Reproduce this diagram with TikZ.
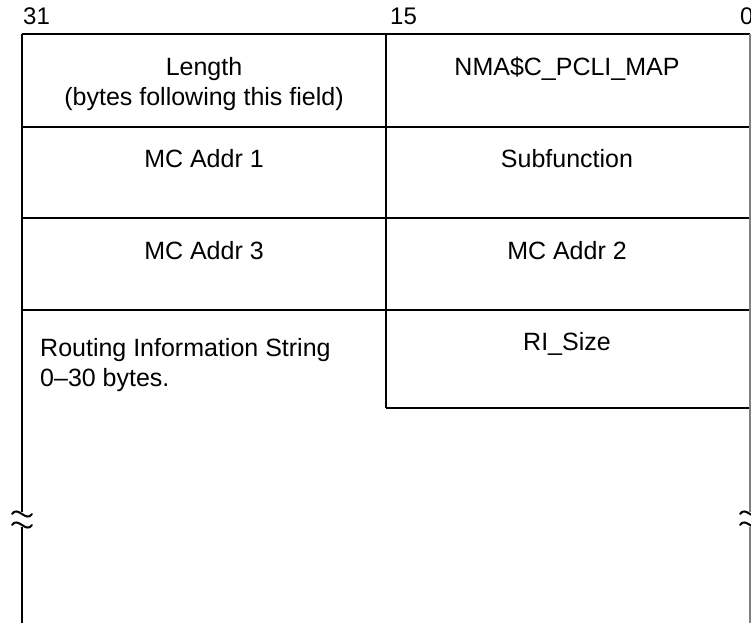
\documentclass[tikz,border=0pt]{standalone}
\usepackage{fontspec}
\setmainfont{Liberation Sans}
\usetikzlibrary{positioning}

\begin{document}
\begin{tikzpicture}[x=1pt,y=-1pt,
  fieldtxt/.style={anchor=north,align=center,font=\fontsize{25}{30}\selectfont,inner sep=0pt},
  bitlbl/.style={anchor=base west,font=\fontsize{24}{28}\selectfont,inner sep=0pt},
  regline/.style={line width=2pt,black},
  brk/.style={line width=2pt,black,line cap=round}
]
  \useasboundingbox (0,0) rectangle (751,623);
  % frame
  \coordinate (tl) at (22,34);
  \coordinate (tm) at (386,34);
  \coordinate (tr) at (750,34);
  \draw[regline] (tl) -- (tr);
  \draw[regline] (22,127) -- (750,127);
  \draw[regline] (22,218) -- (750,218);
  \draw[regline] (22,310) -- (750,310);
  \draw[regline] (386,408) -- (751,408);
  \draw[regline] (tm) -- (386,408);
  \draw[regline] (tl) -- (22,512);
  \draw[regline] (22,527) -- (22,623);
  \draw[gray,line width=1.2pt] (tr) -- (750,512);
  \draw[gray,line width=1.2pt] (750,527) -- (750,623);
  % breaks
  \foreach \bx in {22,750}{
    \draw[brk] (\bx-10,514) .. controls (\bx-4,505) and (\bx+4,523) .. (\bx+10,514);
    \draw[brk] (\bx-10,525) .. controls (\bx-4,516) and (\bx+4,534) .. (\bx+10,525);
  }
  % bit numbers
  \node[bitlbl] (b31) at (23,25) {31};
  \node[bitlbl] (b15) at (390,25) {15};
  \node[bitlbl] (b0) at (740,25) {0};
  % fields
  \node[fieldtxt] (len) at (204,57) {Length\\(bytes following this field)};
  \node[fieldtxt] (code) at (567,57) {NMA\$C\_PCLI\_MAP};
  \node[fieldtxt] (mc1) at (204,149) {MC Addr 1};
  \node[fieldtxt] (subf) at (567,149) {Subfunction};
  \node[fieldtxt] (mc3) at (204,241) {MC Addr 3};
  \node[fieldtxt] (mc2) at (567,241) {MC Addr 2};
  \node[fieldtxt,anchor=north west,align=left] (ris) at (40,338) {Routing Information String\\0--30 bytes.};
  \node[fieldtxt] (risz) at (567,332) {RI\_Size};
\end{tikzpicture}
\end{document}
